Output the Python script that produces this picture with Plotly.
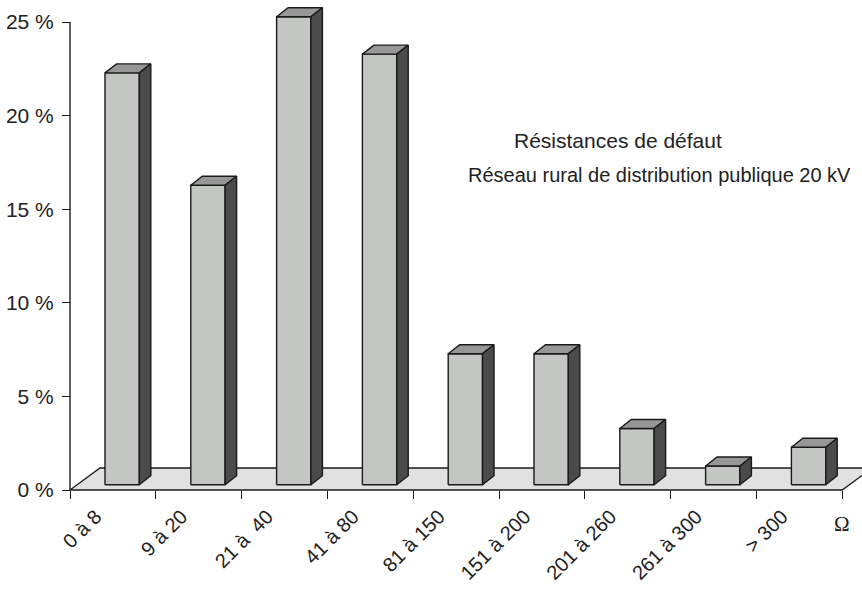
import plotly.graph_objects as go

# ---- data ----
categories = ["0 à 8", "9 à 20", "21 à  40", "41 à 80", "81 à 150",
              "151 à 200", "201 à 260", "261 à 300", "> 300"]
values = [22, 16, 25, 23, 7, 7, 3, 1, 2]
y_tickvals = [0, 5, 10, 15, 20, 25]
y_ticktext = ["0 %", "5 %", "10 %", "15 %", "20 %", "25 %"]
title_lines = ["Résistances de défaut", "Réseau rural de distribution publique 20 kV"]
unit_label = "Ω"

# ---- geometry / style ----
W, H = 862, 589
PX_CAT = 85.8      # px per category
PX_UNIT = 18.72    # px per percent
AX_X, AX_Y = 70, 490  # pixel of axis origin
n = len(categories)

FLOOR_DX, FLOOR_DY = 30 / PX_CAT, 22 / PX_UNIT
F0 = 0.24
BAR_OFF, BAR_W = 0.324, 0.40
BAR_DX, BAR_DY = 11.5 / PX_CAT, 9 / PX_UNIT

FRONT, TOP, SIDE, FLOOR = "#C4C6C4", "#979797", "#4B4B4B", "#E1E1E1"
EDGE = "#1A1A1A"
FONT = "Liberation Sans, Arial, Helvetica, sans-serif"
FS = 21

xr = [-0.5 - 4 / PX_CAT, -0.5 + (W - AX_X) / PX_CAT]
yr = [-6 / PX_UNIT, AX_Y / PX_UNIT]

fig = go.Figure()


def poly(xs, ys, color, width=1.4):
    fig.add_trace(go.Scatter(
        x=list(xs) + [xs[0]], y=list(ys) + [ys[0]], mode="lines",
        fill="toself", fillcolor=color,
        line=dict(color=EDGE, width=width), hoverinfo="skip", showlegend=False))


# floor
fx0, fx1 = -0.5, n - 0.5
poly([fx0, fx1, fx1 + FLOOR_DX, fx0 + FLOOR_DX], [0, 0, FLOOR_DY, FLOOR_DY], FLOOR, 1.3)

# bars
for i, v in enumerate(values):
    x0 = i - 0.5 + BAR_OFF + F0 * FLOOR_DX
    x1 = x0 + BAR_W
    y0 = F0 * FLOOR_DY
    y1 = y0 + v
    poly([x0, x1, x1, x0], [y0, y0, y1, y1], FRONT)
    poly([x0, x1, x1 + BAR_DX, x0 + BAR_DX], [y1, y1, y1 + BAR_DY, y1 + BAR_DY], TOP)
    poly([x1, x1 + BAR_DX, x1 + BAR_DX, x1], [y0, y0 + BAR_DY, y1 + BAR_DY, y1], SIDE)

# y axis line (0 to 25)
fig.add_trace(go.Scatter(x=[-0.5, -0.5], y=[0, y_tickvals[-1]], mode="lines",
                         line=dict(color=EDGE, width=1.4), hoverinfo="skip",
                         showlegend=False))

fig.update_layout(
    width=W, height=H,
    margin=dict(l=0, r=0, t=0, b=0, autoexpand=False),
    paper_bgcolor="white", plot_bgcolor="white",
    font=dict(family=FONT, size=FS, color="#222222"),
    xaxis=dict(
        range=xr, domain=[(AX_X - 4) / W, 1], anchor="free",
        position=(H - AX_Y) / H, automargin=False,
        showgrid=False, zeroline=False, showline=False,
        tickmode="array", tickvals=[i - 0.2 for i in range(n)], ticktext=categories,
        ticks="", tickangle=-45, ticklabelstandoff=10, tickfont=dict(size=20),
        minor=dict(tickmode="array", tickvals=[i - 0.5 for i in range(n + 1)],
                   ticks="outside", ticklen=8, tickcolor=EDGE, tickwidth=1.4,
                   showgrid=False),
    ),
    yaxis=dict(
        range=yr, domain=[(H - AX_Y - 6) / H, 1], anchor="free",
        position=AX_X / W, automargin=False,
        showgrid=False, zeroline=False, showline=False,
        tickmode="array", tickvals=y_tickvals, ticktext=y_ticktext,
        ticks="outside", ticklen=8, tickcolor=EDGE, tickwidth=1.4,
        ticklabelstandoff=4,
    ),
)

fig.add_annotation(x=-0.5 + (617.5 - AX_X) / PX_CAT, y=(AX_Y - 140) / PX_UNIT,
                   text=title_lines[0], showarrow=False, xref="x", yref="y",
                   font=dict(size=FS))
fig.add_annotation(x=-0.5 + (659 - AX_X) / PX_CAT, y=(AX_Y - 175) / PX_UNIT,
                   text=title_lines[1], showarrow=False, xref="x", yref="y",
                   font=dict(size=20))
fig.add_annotation(x=842 / W, y=(H - 524) / H, text=unit_label,
                   showarrow=False, xref="paper", yref="paper",
                   xanchor="center", yanchor="middle",
                   font=dict(size=21, family="Liberation Serif, Times New Roman, serif"))

fig.write_html("out.html", config={"displayModeBar": False},
               post_script="document.body.style.margin='0px';")
